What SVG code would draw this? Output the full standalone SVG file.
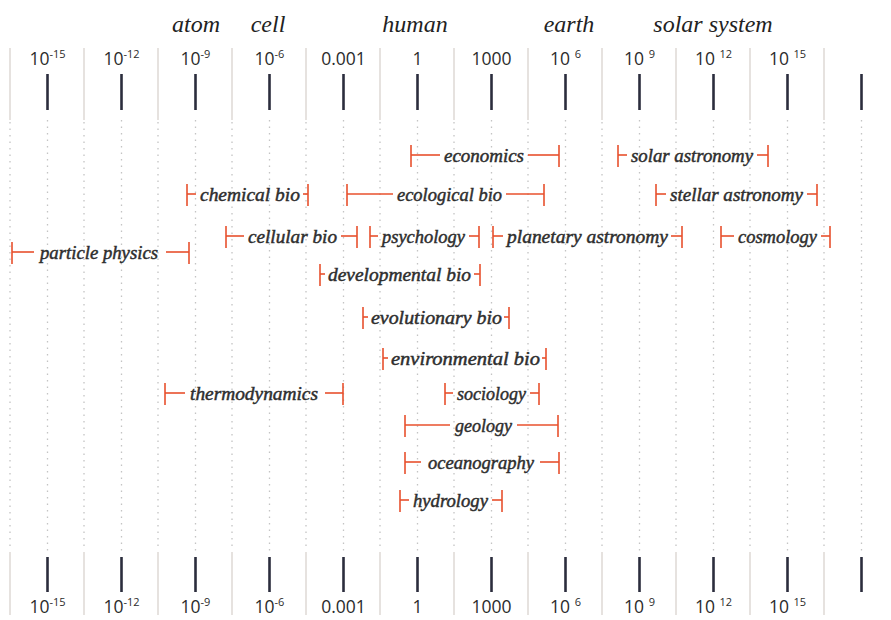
<svg xmlns="http://www.w3.org/2000/svg" width="891" height="620" viewBox="0 0 891 620">
<style>
.bg{fill:#fff}
.solid{stroke:#dcd6d2;stroke-width:1.4}
.dot{stroke:#c4c4c4;stroke-width:1.3;stroke-dasharray:1.5 5}
.tick{stroke:#2b2d3d;stroke-width:2.6}
.num{font-family:"Open Sans","Liberation Sans",sans-serif;font-size:17.5px;fill:#2b2b2b;text-anchor:middle}
.sup{font-size:11px}
.hdr{font-family:"Liberation Serif",serif;font-style:italic;font-size:24px;fill:#222;text-anchor:middle}
.bar line{stroke:#e8502d;stroke-width:1.6}
.bar text{font-family:"Liberation Serif",serif;font-style:italic;font-size:18px;fill:#2e2e2e;stroke:#2e2e2e;stroke-width:0.45}
</style>
<rect class="bg" width="891" height="620"/>
<g id="grid">
<g class="solid">
<line x1="10" y1="48" x2="10" y2="120"/><line x1="84" y1="48" x2="84" y2="120"/><line x1="158" y1="48" x2="158" y2="120"/><line x1="232" y1="48" x2="232" y2="120"/><line x1="306" y1="48" x2="306" y2="120"/><line x1="380" y1="48" x2="380" y2="120"/><line x1="454" y1="48" x2="454" y2="120"/><line x1="528" y1="48" x2="528" y2="120"/><line x1="602" y1="48" x2="602" y2="120"/><line x1="676" y1="48" x2="676" y2="120"/><line x1="750" y1="48" x2="750" y2="120"/><line x1="824" y1="48" x2="824" y2="120"/>
<line x1="10" y1="552" x2="10" y2="615"/><line x1="84" y1="552" x2="84" y2="615"/><line x1="158" y1="552" x2="158" y2="615"/><line x1="232" y1="552" x2="232" y2="615"/><line x1="306" y1="552" x2="306" y2="615"/><line x1="380" y1="552" x2="380" y2="615"/><line x1="454" y1="552" x2="454" y2="615"/><line x1="528" y1="552" x2="528" y2="615"/><line x1="602" y1="552" x2="602" y2="615"/><line x1="676" y1="552" x2="676" y2="615"/><line x1="750" y1="552" x2="750" y2="615"/><line x1="824" y1="552" x2="824" y2="615"/>
</g>
<g class="dot">
<line x1="10" y1="122" x2="10" y2="550"/><line x1="84" y1="122" x2="84" y2="550"/><line x1="158" y1="122" x2="158" y2="550"/><line x1="232" y1="122" x2="232" y2="550"/><line x1="306" y1="122" x2="306" y2="550"/><line x1="380" y1="122" x2="380" y2="550"/><line x1="454" y1="122" x2="454" y2="550"/><line x1="528" y1="122" x2="528" y2="550"/><line x1="602" y1="122" x2="602" y2="550"/><line x1="676" y1="122" x2="676" y2="550"/><line x1="750" y1="122" x2="750" y2="550"/><line x1="824" y1="122" x2="824" y2="550"/>
<line x1="47.5" y1="120" x2="47.5" y2="552"/><line x1="121.5" y1="120" x2="121.5" y2="552"/><line x1="195.5" y1="120" x2="195.5" y2="552"/><line x1="269.5" y1="120" x2="269.5" y2="552"/><line x1="343.5" y1="120" x2="343.5" y2="552"/><line x1="417.5" y1="120" x2="417.5" y2="552"/><line x1="491.5" y1="120" x2="491.5" y2="552"/><line x1="565.5" y1="120" x2="565.5" y2="552"/><line x1="639.5" y1="120" x2="639.5" y2="552"/><line x1="713.5" y1="120" x2="713.5" y2="552"/><line x1="787.5" y1="120" x2="787.5" y2="552"/><line x1="861.5" y1="120" x2="861.5" y2="552"/>
</g>
</g>
<g id="header">
<text class="hdr" x="196" y="32">atom</text>
<text class="hdr" x="268" y="32">cell</text>
<text class="hdr" x="415" y="32">human</text>
<text class="hdr" x="569" y="32">earth</text>
<text class="hdr" x="713" y="32">solar system</text>
</g>
<g id="axis-top">
<g class="tick">
<line x1="47.5" y1="74" x2="47.5" y2="110"/><line x1="121.5" y1="74" x2="121.5" y2="110"/><line x1="195.5" y1="74" x2="195.5" y2="110"/><line x1="269.5" y1="74" x2="269.5" y2="110"/><line x1="343.5" y1="74" x2="343.5" y2="110"/><line x1="417.5" y1="74" x2="417.5" y2="110"/><line x1="491.5" y1="74" x2="491.5" y2="110"/><line x1="565.5" y1="74" x2="565.5" y2="110"/><line x1="639.5" y1="74" x2="639.5" y2="110"/><line x1="713.5" y1="74" x2="713.5" y2="110"/><line x1="787.5" y1="74" x2="787.5" y2="110"/><line x1="861.5" y1="74" x2="861.5" y2="110"/>
</g>
<text class="num" x="47.5" y="65">10<tspan class="sup" dy="-7">-15</tspan></text>
<text class="num" x="121.5" y="65">10<tspan class="sup" dy="-7">-12</tspan></text>
<text class="num" x="195.5" y="65">10<tspan class="sup" dy="-7">-9</tspan></text>
<text class="num" x="269.5" y="65">10<tspan class="sup" dy="-7">-6</tspan></text>
<text class="num" x="343.5" y="65">0.001</text>
<text class="num" x="417.5" y="65">1</text>
<text class="num" x="491.5" y="65">1000</text>
<text class="num" x="565.5" y="65">10 <tspan class="sup" dy="-7">6</tspan></text>
<text class="num" x="639.5" y="65">10 <tspan class="sup" dy="-7">9</tspan></text>
<text class="num" x="713.5" y="65">10 <tspan class="sup" dy="-7">12</tspan></text>
<text class="num" x="787.5" y="65">10 <tspan class="sup" dy="-7">15</tspan></text>
</g>
<g id="axis-bottom">
<g class="tick">
<line x1="47.5" y1="557" x2="47.5" y2="592"/><line x1="121.5" y1="557" x2="121.5" y2="592"/><line x1="195.5" y1="557" x2="195.5" y2="592"/><line x1="269.5" y1="557" x2="269.5" y2="592"/><line x1="343.5" y1="557" x2="343.5" y2="592"/><line x1="417.5" y1="557" x2="417.5" y2="592"/><line x1="491.5" y1="557" x2="491.5" y2="592"/><line x1="565.5" y1="557" x2="565.5" y2="592"/><line x1="639.5" y1="557" x2="639.5" y2="592"/><line x1="713.5" y1="557" x2="713.5" y2="592"/><line x1="787.5" y1="557" x2="787.5" y2="592"/><line x1="861.5" y1="557" x2="861.5" y2="592"/>
</g>
<text class="num" x="47.5" y="613">10<tspan class="sup" dy="-7">-15</tspan></text>
<text class="num" x="121.5" y="613">10<tspan class="sup" dy="-7">-12</tspan></text>
<text class="num" x="195.5" y="613">10<tspan class="sup" dy="-7">-9</tspan></text>
<text class="num" x="269.5" y="613">10<tspan class="sup" dy="-7">-6</tspan></text>
<text class="num" x="343.5" y="613">0.001</text>
<text class="num" x="417.5" y="613">1</text>
<text class="num" x="491.5" y="613">1000</text>
<text class="num" x="565.5" y="613">10 <tspan class="sup" dy="-7">6</tspan></text>
<text class="num" x="639.5" y="613">10 <tspan class="sup" dy="-7">9</tspan></text>
<text class="num" x="713.5" y="613">10 <tspan class="sup" dy="-7">12</tspan></text>
<text class="num" x="787.5" y="613">10 <tspan class="sup" dy="-7">15</tspan></text>
</g>
<g id="bars">
<g id="economics" class="bar"><line x1="411" y1="145" x2="411" y2="167"/><line x1="411" y1="155" x2="440" y2="155"/><text x="444" y="162" textLength="80" lengthAdjust="spacingAndGlyphs">economics</text><line x1="528" y1="155" x2="559" y2="155"/><line x1="559" y1="145" x2="559" y2="167"/></g>
<g id="solar-astronomy" class="bar"><line x1="618" y1="145" x2="618" y2="167"/><line x1="618" y1="155" x2="627" y2="155"/><text x="631" y="162" textLength="122" lengthAdjust="spacingAndGlyphs">solar astronomy</text><line x1="757" y1="155" x2="768" y2="155"/><line x1="768" y1="145" x2="768" y2="167"/></g>
<g id="chemical-bio" class="bar"><line x1="187" y1="184" x2="187" y2="206"/><line x1="187" y1="194" x2="196" y2="194"/><text x="200" y="201" textLength="100" lengthAdjust="spacingAndGlyphs">chemical bio</text><line x1="303" y1="194" x2="308" y2="194"/><line x1="308" y1="184" x2="308" y2="206"/></g>
<g id="ecological-bio" class="bar"><line x1="347" y1="184" x2="347" y2="206"/><line x1="347" y1="194" x2="393" y2="194"/><text x="397" y="201" textLength="105" lengthAdjust="spacingAndGlyphs">ecological bio</text><line x1="506" y1="194" x2="544" y2="194"/><line x1="544" y1="184" x2="544" y2="206"/></g>
<g id="stellar-astronomy" class="bar"><line x1="656" y1="184" x2="656" y2="206"/><line x1="656" y1="194" x2="666" y2="194"/><text x="670" y="201" textLength="133" lengthAdjust="spacingAndGlyphs">stellar astronomy</text><line x1="807" y1="194" x2="817" y2="194"/><line x1="817" y1="184" x2="817" y2="206"/></g>
<g id="cellular-bio" class="bar"><line x1="226" y1="226" x2="226" y2="248"/><line x1="226" y1="236" x2="244" y2="236"/><text x="248" y="243" textLength="89" lengthAdjust="spacingAndGlyphs">cellular bio</text><line x1="341" y1="236" x2="357" y2="236"/><line x1="357" y1="226" x2="357" y2="248"/></g>
<g id="psychology" class="bar"><line x1="370" y1="226" x2="370" y2="248"/><line x1="370" y1="236" x2="378" y2="236"/><text x="382" y="243" textLength="83" lengthAdjust="spacingAndGlyphs">psychology</text><line x1="469" y1="236" x2="479" y2="236"/><line x1="479" y1="226" x2="479" y2="248"/></g>
<g id="planetary-astronomy" class="bar"><line x1="493" y1="226" x2="493" y2="248"/><line x1="493" y1="236" x2="503" y2="236"/><text x="507" y="243" textLength="161" lengthAdjust="spacingAndGlyphs">planetary astronomy</text><line x1="671" y1="236" x2="682" y2="236"/><line x1="682" y1="226" x2="682" y2="248"/></g>
<g id="cosmology" class="bar"><line x1="721" y1="226" x2="721" y2="248"/><line x1="721" y1="236" x2="734" y2="236"/><text x="738" y="243" textLength="79" lengthAdjust="spacingAndGlyphs">cosmology</text><line x1="821" y1="236" x2="830" y2="236"/><line x1="830" y1="226" x2="830" y2="248"/></g>
<g id="particle-physics" class="bar"><line x1="12" y1="242" x2="12" y2="264"/><line x1="12" y1="252" x2="34" y2="252"/><text x="40" y="259" textLength="118" lengthAdjust="spacingAndGlyphs">particle physics</text><line x1="166" y1="252" x2="189" y2="252"/><line x1="189" y1="242" x2="189" y2="264"/></g>
<g id="developmental-bio" class="bar"><line x1="320" y1="264" x2="320" y2="286"/><line x1="320" y1="274" x2="325" y2="274"/><text x="328" y="281" textLength="143" lengthAdjust="spacingAndGlyphs">developmental bio</text><line x1="474" y1="274" x2="480" y2="274"/><line x1="480" y1="264" x2="480" y2="286"/></g>
<g id="evolutionary-bio" class="bar"><line x1="363" y1="307" x2="363" y2="329"/><line x1="363" y1="317" x2="368" y2="317"/><text x="371" y="324" textLength="131" lengthAdjust="spacingAndGlyphs">evolutionary bio</text><line x1="504" y1="317" x2="509" y2="317"/><line x1="509" y1="307" x2="509" y2="329"/></g>
<g id="environmental-bio" class="bar"><line x1="383" y1="348" x2="383" y2="370"/><line x1="383" y1="358" x2="388" y2="358"/><text x="391" y="365" textLength="149" lengthAdjust="spacingAndGlyphs">environmental bio</text><line x1="542" y1="358" x2="546" y2="358"/><line x1="546" y1="348" x2="546" y2="370"/></g>
<g id="thermodynamics" class="bar"><line x1="165" y1="383" x2="165" y2="405"/><line x1="165" y1="393" x2="185" y2="393"/><text x="190" y="400" textLength="128" lengthAdjust="spacingAndGlyphs">thermodynamics</text><line x1="325" y1="393" x2="343" y2="393"/><line x1="343" y1="383" x2="343" y2="405"/></g>
<g id="sociology" class="bar"><line x1="445" y1="383" x2="445" y2="405"/><line x1="445" y1="393" x2="453" y2="393"/><text x="457" y="400" textLength="69" lengthAdjust="spacingAndGlyphs">sociology</text><line x1="530" y1="393" x2="539" y2="393"/><line x1="539" y1="383" x2="539" y2="405"/></g>
<g id="geology" class="bar"><line x1="405" y1="415" x2="405" y2="437"/><line x1="405" y1="425" x2="450" y2="425"/><text x="455" y="432" textLength="57" lengthAdjust="spacingAndGlyphs">geology</text><line x1="517" y1="425" x2="558" y2="425"/><line x1="558" y1="415" x2="558" y2="437"/></g>
<g id="oceanography" class="bar"><line x1="405" y1="452" x2="405" y2="474"/><line x1="405" y1="462" x2="421" y2="462"/><text x="428" y="469" textLength="106" lengthAdjust="spacingAndGlyphs">oceanography</text><line x1="540" y1="462" x2="559" y2="462"/><line x1="559" y1="452" x2="559" y2="474"/></g>
<g id="hydrology" class="bar"><line x1="400" y1="490" x2="400" y2="512"/><line x1="400" y1="500" x2="409" y2="500"/><text x="413" y="507" textLength="75" lengthAdjust="spacingAndGlyphs">hydrology</text><line x1="492" y1="500" x2="502" y2="500"/><line x1="502" y1="490" x2="502" y2="512"/></g>
</g>
</svg>
